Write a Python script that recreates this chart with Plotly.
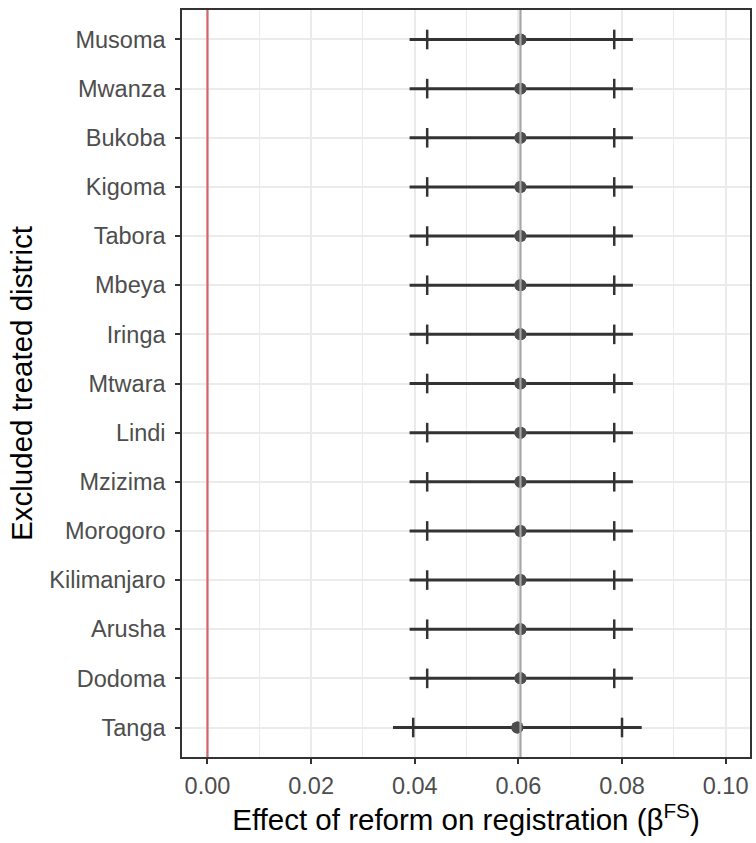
import plotly.graph_objects as go

districts = ["Musoma", "Mwanza", "Bukoba", "Kigoma", "Tabora", "Mbeya", "Iringa",
             "Mtwara", "Lindi", "Mzizima", "Morogoro", "Kilimanjaro", "Arusha",
             "Dodoma", "Tanga"]
estimate = [0.0604] * 14 + [0.0598]
lo95 = [0.0390] * 14 + [0.0358]
hi95 = [0.0821] * 14 + [0.0838]
lo90 = [0.0424] * 14 + [0.0397]
hi90 = [0.0785] * 14 + [0.0800]
full_sample = 0.0604
x_ticks = [0.00, 0.02, 0.04, 0.06, 0.08, 0.10]
x_tick_labels = ["0.00", "0.02", "0.04", "0.06", "0.08", "0.10"]
minor_ticks = [0.01, 0.03, 0.05, 0.07, 0.09]

FONT = "Liberation Sans, Arial, sans-serif"
DARK = "#333333"

fig = go.Figure()

# reference lines
fig.add_vline(x=0, line=dict(color="#d66565", width=2.2), layer="above")
fig.add_vline(x=full_sample, line=dict(color="#a6a6a6", width=2.2), layer="above")

# 95% intervals + point estimate
fig.add_trace(go.Scatter(
    x=estimate, y=districts, mode="markers",
    marker=dict(size=12, color="#4d4d4d"),
    error_x=dict(type="data", symmetric=False,
                 array=[h - e for h, e in zip(hi95, estimate)],
                 arrayminus=[e - l for e, l in zip(estimate, lo95)],
                 thickness=3, width=0, color=DARK),
    showlegend=False, hoverinfo="skip",
))
# 90% ticks
fig.add_trace(go.Scatter(
    x=lo90 + hi90, y=districts + districts, mode="markers",
    marker=dict(symbol="line-ns", size=14, line=dict(width=2.5, color=DARK)),
    showlegend=False, hoverinfo="skip",
))
# redraw points on top
fig.add_trace(go.Scatter(
    x=estimate, y=districts, mode="markers",
    marker=dict(size=12, color="#4d4d4d"),
    showlegend=False, hoverinfo="skip",
))

fig.update_layout(
    width=756, height=843,
    margin=dict(l=182, r=4, t=10, b=86),
    paper_bgcolor="white", plot_bgcolor="white",
    font=dict(family=FONT),
)
fig.update_xaxes(
    range=[-0.00492, 0.1047],
    tickvals=x_ticks, ticktext=x_tick_labels,
    tickfont=dict(size=23.5, color="#4d4d4d"),
    ticks="outside", ticklen=5, tickwidth=1.5, tickcolor=DARK,
    ticklabelstandoff=2,
    showgrid=True, gridcolor="#ebebeb", gridwidth=1.6,
    minor=dict(tickvals=minor_ticks, showgrid=True, gridcolor="#ebebeb", gridwidth=0.9, ticks=""),
    showline=True, linecolor=DARK, linewidth=1.5, mirror=True,
    zeroline=False,
    title=dict(text="Effect of reform on registration (β<sup>FS</sup>)",
               font=dict(size=29.5, color="black"), standoff=6),
)
fig.update_yaxes(
    categoryorder="array", categoryarray=districts[::-1],
    range=[-0.6, 14.6],
    tickfont=dict(size=23.5, color="#4d4d4d"),
    ticks="outside", ticklen=5, tickwidth=1.5, tickcolor=DARK,
    ticklabelstandoff=5,
    showgrid=True, gridcolor="#ebebeb", gridwidth=1.6,
    showline=True, linecolor=DARK, linewidth=1.5, mirror=True,
    zeroline=False,
    title=dict(text="Excluded treated district", font=dict(size=29.5, color="black"), standoff=8),
)

fig.write_html("out.html")
